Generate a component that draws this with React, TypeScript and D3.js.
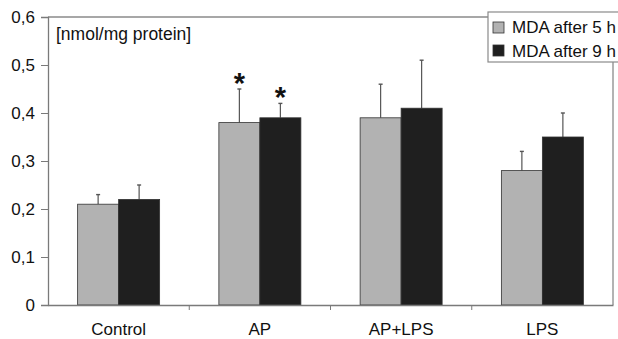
import React, { useEffect, useRef } from "react";
import * as d3 from "d3";

const categories = ["Control", "AP", "AP+LPS", "LPS"];
const seriesNames = ["MDA after 5 h", "MDA after 9 h"];
const after5h = [0.21, 0.38, 0.39, 0.28];
const after5hErr = [0.02, 0.07, 0.07, 0.04];
const after9h = [0.22, 0.39, 0.41, 0.35];
const after9hErr = [0.03, 0.03, 0.1, 0.05];
const significant5h = [false, true, false, false];
const significant9h = [false, true, false, false];
const yTicks = [0, 0.1, 0.2, 0.3, 0.4, 0.5, 0.6];

const colors = ["#b2b2b2", "#1f1f1f"];

const App: React.FC = () => {
  const svgRef = useRef<SVGSVGElement | null>(null);

  useEffect(() => {
    const svg = d3.select(svgRef.current);
    svg.selectAll("*").remove();

    const w = 618;
    const h = 339;
    const m = { top: 17, right: 5, bottom: 34, left: 48 };

    const x = d3.scaleBand().domain(categories).range([m.left, w - m.right]);
    const y = d3.scaleLinear().domain([0, 0.6]).range([h - m.bottom, m.top]);
    const bw = 41;

    const font = "'Liberation Sans', Arial, sans-serif";

    // frame (top + right)
    svg.append("line")
      .attr("x1", m.left).attr("x2", w - m.right)
      .attr("y1", y(0.6)).attr("y2", y(0.6))
      .attr("stroke", "#8a8a8a").attr("stroke-width", 1.3);
    svg.append("line")
      .attr("x1", w - m.right).attr("x2", w - m.right)
      .attr("y1", y(0.6)).attr("y2", y(0))
      .attr("stroke", "#8a8a8a").attr("stroke-width", 1.3);

    const series = [
      { vals: after5h, errs: after5hErr, sig: significant5h, off: -bw },
      { vals: after9h, errs: after9hErr, sig: significant9h, off: 0 },
    ];

    series.forEach((s, si) => {
      categories.forEach((c, i) => {
        const cx = x(c)! + x.bandwidth() / 2 + s.off;
        const top = y(s.vals[i]);
        const errTop = y(s.vals[i] + s.errs[i]);
        const ex = cx + bw / 2;
        svg.append("line")
          .attr("x1", ex).attr("x2", ex)
          .attr("y1", top).attr("y2", errTop)
          .attr("stroke", "#555").attr("stroke-width", 1.2);
        svg.append("line")
          .attr("x1", ex - 2).attr("x2", ex + 2)
          .attr("y1", errTop).attr("y2", errTop)
          .attr("stroke", "#555").attr("stroke-width", 1.4);
        svg.append("rect")
          .attr("x", cx)
          .attr("y", top)
          .attr("width", bw)
          .attr("height", y(0) - top)
          .attr("fill", colors[si])
          .attr("stroke", "#333")
          .attr("stroke-width", 0.8);
        if (s.sig[i]) {
          svg.append("text")
            .attr("x", ex)
            .attr("y", errTop + 4)
            .attr("text-anchor", "middle")
            .style("font-family", font)
            .style("font-size", "29px")
            .style("font-weight", "bold")
            .style("fill", "#111")
            .text("*");
        }
      });
    });

    // y axis
    const yAxis = svg.append("g")
      .attr("transform", `translate(${m.left},0)`)
      .call(d3.axisLeft(y).tickValues(yTicks).tickSize(7).tickPadding(6)
        .tickFormat(d => d3.format(".1f")(d as number).replace(".", ",").replace(/^0,0$/, "0")));
    yAxis.select(".domain").attr("stroke", "#7a7a7a").attr("stroke-width", 1.3);
    yAxis.selectAll(".tick line").attr("stroke", "#7a7a7a");
    yAxis.selectAll("text")
      .style("font-family", font)
      .style("font-size", "17px")
      .style("fill", "#111");

    // x axis
    const xAxis = svg.append("g")
      .attr("transform", `translate(0,${y(0)})`)
      .call(d3.axisBottom(x).tickSize(0).tickPadding(18));
    xAxis.select(".domain").attr("stroke", "#7a7a7a").attr("stroke-width", 1.3);
    xAxis.selectAll("text")
      .style("font-family", font)
      .style("font-size", "17px")
      .style("fill", "#111");
    // category separators
    svg.selectAll(".sep")
      .data(categories.slice(1))
      .enter()
      .append("line")
      .attr("x1", d => x(d)!).attr("x2", d => x(d)!)
      .attr("y1", y(0)).attr("y2", y(0) + 5)
      .attr("stroke", "#7a7a7a");

    // unit label
    svg.append("text")
      .attr("x", 56).attr("y", 40)
      .style("font-family", font)
      .style("font-size", "17.5px")
      .style("fill", "#111")
      .text("[nmol/mg protein]");

    // legend
    const lg = svg.append("g").attr("transform", "translate(488,12)");
    lg.append("rect")
      .attr("width", 140).attr("height", 50)
      .attr("fill", "#fff").attr("stroke", "#8a8a8a").attr("stroke-width", 1.2);
    seriesNames.forEach((n, i) => {
      lg.append("rect")
        .attr("x", 5).attr("y", 10 + i * 23)
        .attr("width", 11).attr("height", 11)
        .attr("fill", colors[i]).attr("stroke", "#333").attr("stroke-width", 0.8);
      lg.append("text")
        .attr("x", 24).attr("y", 21 + i * 23.5)
        .style("font-family", font)
        .style("font-size", "17px")
        .style("fill", "#111")
        .text(n);
    });
  }, []);

  return (
    <div style={{ position: "absolute", left: 0, top: 0 }}>
      <svg ref={svgRef} width={618} height={339} style={{ display: "block", background: "#fff" }} />
    </div>
  );
};

export default App;
